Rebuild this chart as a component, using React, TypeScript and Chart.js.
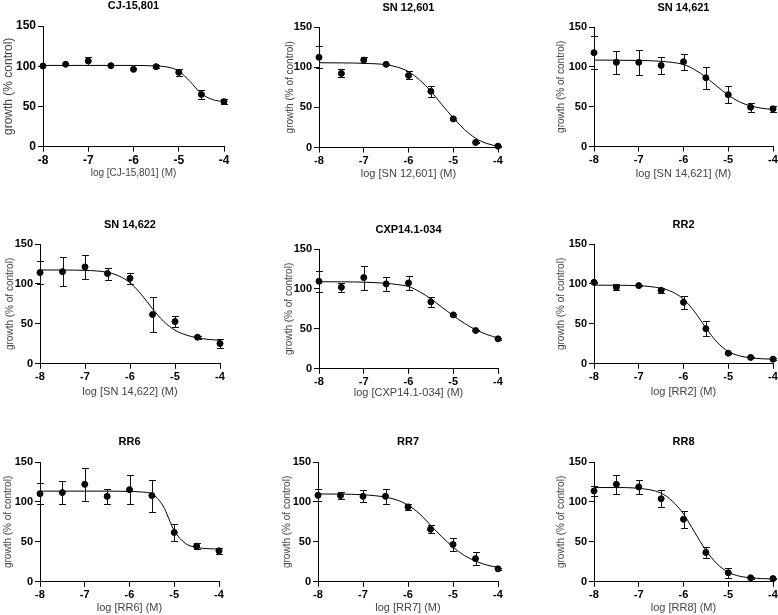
import React, { useEffect, useRef } from "react";
import { Chart, registerables } from "chart.js";

Chart.register(...registerables);

// ---------- data ----------
const doses = [-8, -7.5, -7, -6.5, -6, -5.5, -5, -4.5, -4];
const fitX = [-8, -7.5, -7, -6.5, -6.25, -6, -5.75, -5.5, -5.25, -5, -4.75, -4.5, -4.25, -4];
const xRange = [-8, -4];
const xStep = 1;
const yRange = [0, 150];
const yStep = 50;

const titles = ["CJ-15,801", "SN 12,601", "SN 14,621", "SN 14,622", "CXP14.1-034", "RR2", "RR6", "RR7", "RR8"];
const xTitles = [
  "log [CJ-15,801] (M)",
  "log [SN 12,601] (M)",
  "log [SN 14,621] (M)",
  "log [SN 14,622] (M)",
  "log [CXP14.1-034] (M)",
  "log [RR2] (M)",
  "log [RR6] (M)",
  "log [RR7] (M)",
  "log [RR8] (M)",
];
const yTitles = [
  "growth (% control)",
  "growth (% of control)",
  "growth (% of control)",
  "growth (% of control)",
  "growth (% of control)",
  "growth (% of control)",
  "growth (% of control)",
  "growth (% of control)",
  "growth (% of control)",
];

const cj15801Mean = [100.3, 102.4, 106.5, 100.7, 96.1, 99.5, 92.4, 65, 56];
const cj15801Err = [0, 0, 5, 0, 0, 2, 4, 6, 3];
const cj15801Fit = [101, 101, 101, 101, 101, 101, 100.8, 100.3, 99, 94, 81, 66, 58.5, 56];

const sn12601Mean = [112.3, 92.2, 108.9, 103.5, 89.7, 70, 35.6, 6.3, 1.7];
const sn12601Err = [13.5, 5, 4, 1, 5, 7, 1.5, 0.5, 0.5];
const sn12601Fit = [105.5, 105.3, 104.8, 103, 100, 94.5, 84, 70, 53, 37, 22.5, 11.5, 5, 1.5];

const sn14621Mean = [117.7, 105.6, 105.6, 101.8, 106.4, 86.3, 65, 49.4, 47.3];
const sn14621Err = [21, 14, 15.5, 10.5, 10, 14, 11, 5.5, 3.5];
const sn14621Fit = [108.5, 108.3, 108, 107, 105.5, 103, 96.5, 87, 75.5, 64.5, 56, 51, 48, 46.5];

const sn14622Mean = [114.2, 115.4, 121.3, 113, 107, 61.7, 52.9, 33.3, 25.4];
const sn14622Err = [14.5, 18, 15.5, 7.5, 7, 22, 6.7, 2, 5.5];
const sn14622Fit = [117.5, 117.4, 117, 114.5, 110, 101.5, 87, 69, 53, 42, 36, 32.5, 30.5, 29.5];

const cxp141034Mean = [109.6, 102, 114.2, 106.3, 107.5, 83.8, 67.5, 47.9, 37.5];
const cxp141034Err = [13.3, 6, 15, 8.5, 9, 6, 1, 1, 1];
const cxp141034Fit = [109, 108.9, 108.5, 107, 105.5, 103, 96.5, 87.5, 77, 66.5, 57, 49, 43, 38.5];

const rr2Mean = [102, 95.8, 97.9, 92, 77, 44, 13.3, 8, 5.8];
const rr2Err = [1, 4, 1, 3.5, 8, 9.5, 1.5, 1, 1];
const rr2Fit = [98.5, 98.3, 97.8, 94.5, 90, 81, 65, 45, 27, 15.5, 10, 7.5, 6.3, 5.8];

const rr6Mean = [110.4, 111.7, 122, 107, 115.4, 108, 61.7, 44.6, 38.8];
const rr6Err = [13.5, 14.5, 21, 9.5, 18.5, 20, 10.5, 4, 4];
const rr6Fit = [113.5, 113.5, 113.5, 113.5, 113.4, 113.2, 112.5, 110, 95, 64, 48, 43, 41.5, 41];

const rr7Mean = [108.3, 107.9, 107, 107, 93.8, 65.8, 46.7, 29, 16.2];
const rr7Err = [7.3, 4, 7.5, 9.5, 4, 5.3, 8.3, 8.3, 1];
const rr7Fit = [110, 109.8, 109, 106, 102.5, 96, 85.5, 71, 56.5, 43.5, 33, 26, 21, 18];

const rr8Mean = [113.8, 122, 118.8, 104, 78.3, 36.7, 11.3, 5, 4];
const rr8Err = [5.8, 11.5, 9, 10.5, 10.5, 7, 6, 1, 1];
const rr8Fit = [118, 118, 117, 111, 101, 85, 62, 39.5, 22.5, 12, 7, 5, 4, 3.5];

const means = [cj15801Mean, sn12601Mean, sn14621Mean, sn14622Mean, cxp141034Mean, rr2Mean, rr6Mean, rr7Mean, rr8Mean];
const errs = [cj15801Err, sn12601Err, sn14621Err, sn14622Err, cxp141034Err, rr2Err, rr6Err, rr7Err, rr8Err];
const fits = [cj15801Fit, sn12601Fit, sn14621Fit, sn14622Fit, cxp141034Fit, rr2Fit, rr6Fit, rr7Fit, rr8Fit];

// ---------- layout (page pixels) ----------
// plotLeft, plotTop, plotRight, plotBottom, titleCenterY, yTitleCenterX, xTitleCenterY
const layouts = [
  [43, 26, 224, 147, 5.8, 8.7, 173.3],
  [319, 27, 498, 147, 7.3, 290, 173],
  [594, 27, 773, 146, 7.3, 561, 173],
  [40, 244, 220, 364, 224.3, 10, 391.7],
  [319, 249, 498, 369, 229.3, 289, 392.7],
  [594, 244, 773, 364, 224.3, 560.7, 391.7],
  [40, 462, 219, 582, 441.7, 8.3, 607.7],
  [318, 462, 498, 582, 441.7, 287, 607.7],
  [594, 462, 773, 582, 441.7, 561, 607.7],
];
// font sizes: title, tick, yTitle, xTitle
const fontSizes = [
  [11, 12, 12, 10],
  [11, 11, 10, 11],
  [11, 11, 10, 11],
  [11, 11, 10, 11],
  [11, 11, 10, 11],
  [11, 11, 10, 11],
  [11, 11, 10, 11],
  [11, 11, 10, 11],
  [11, 11, 10, 11],
];

const FONT = "'Liberation Sans', Arial, Helvetica, sans-serif";
const PAD_R = 10;

const errorBarPlugin = {
  id: "errorBars",
  afterDatasetsDraw(chart: any) {
    const ctx = chart.ctx;
    const xs = chart.scales.x;
    const ys = chart.scales.y;
    chart.data.datasets.forEach((ds: any) => {
      if (!ds.errors) return;
      ctx.save();
      ctx.strokeStyle = "#111";
      ctx.lineWidth = 1;
      const cap = 3.5;
      ds.data.forEach((p: any, i: number) => {
        const e = ds.errors[i];
        if (!e) return;
        const px = Math.round(xs.getPixelForValue(p.x)) + 0.5;
        const top = Math.round(ys.getPixelForValue(p.y + e)) + 0.5;
        const bot = Math.round(ys.getPixelForValue(p.y - e)) + 0.5;
        ctx.beginPath();
        ctx.moveTo(px, top);
        ctx.lineTo(px, bot);
        ctx.moveTo(px - cap, top);
        ctx.lineTo(px + cap, top);
        ctx.moveTo(px - cap, bot);
        ctx.lineTo(px + cap, bot);
        ctx.stroke();
      });
      ctx.restore();
    });
  },
};

function Panel({ idx }: { idx: number }) {
  const ref = useRef<HTMLCanvasElement>(null);
  const [pl, pt, pr, pb, ty, yx, xy] = layouts[idx];
  const [tSize, tickSize, ytSize, xtSize] = fontSizes[idx];
  const cLeft = Math.round(yx - ytSize / 2);
  const cTop = Math.max(0, Math.round(ty - tSize / 2));
  const yW = pl - cLeft;
  const titlePadBottom = pt - cTop - tSize;
  const xH = xy - pb + xtSize / 2;
  const cH = Math.round(pb + xH - cTop);
  const cW = Math.round(pr - cLeft + PAD_R);

  useEffect(() => {
    const canvas = ref.current!;
    const chart = new Chart(canvas, {
      type: "scatter",
      data: {
        datasets: [
          {
            type: "line",
            data: fitX.map((x, i) => ({ x, y: fits[idx][i] })),
            borderColor: "#000",
            borderWidth: 1,
            pointRadius: 0,
            cubicInterpolationMode: "monotone",
            fill: false,
            clip: false,
          } as any,
          {
            type: "scatter",
            data: doses.map((x, i) => ({ x, y: means[idx][i] })),
            errors: errs[idx],
            backgroundColor: "#000",
            borderColor: "#000",
            pointRadius: 3,
            pointHoverRadius: 3,
            clip: false,
          } as any,
        ],
      },
      options: {
        animation: false,
        responsive: false,
        devicePixelRatio: 1,
        events: [],
        layout: { padding: { left: 0, top: 0, right: PAD_R, bottom: 0 } },
        plugins: {
          legend: { display: false },
          tooltip: { enabled: false },
          title: {
            display: true,
            text: titles[idx],
            color: "#000",
            fullSize: false,
            font: { family: FONT, size: tSize, weight: "bold", lineHeight: 1 },
            padding: { top: 0, bottom: titlePadBottom },
          },
        },
        scales: {
          x: {
            type: "linear",
            min: xRange[0],
            max: xRange[1],
            afterFit: (s: any) => {
              s.height = xH;
            },
            ticks: {
              stepSize: xStep,
              color: "#000",
              padding: 2,
              font: { family: FONT, size: tickSize, weight: "bold" },
            },
            grid: { display: true, drawOnChartArea: false, drawTicks: true, tickLength: 5, color: "#000" },
            border: { display: true, color: "#000", width: 1 },
            title: {
              display: true,
              text: xTitles[idx],
              color: "#444",
              padding: 0,
              font: { family: FONT, size: xtSize, lineHeight: 1 },
            },
          },
          y: {
            type: "linear",
            min: yRange[0],
            max: yRange[1],
            afterFit: (s: any) => {
              s.width = yW;
            },
            ticks: {
              stepSize: yStep,
              color: "#000",
              padding: 2,
              font: { family: FONT, size: tickSize, weight: "bold" },
            },
            grid: { display: true, drawOnChartArea: false, drawTicks: true, tickLength: 5, color: "#000" },
            border: { display: true, color: "#000", width: 1 },
            title: {
              display: true,
              text: yTitles[idx],
              color: "#444",
              padding: 0,
              font: { family: FONT, size: ytSize, lineHeight: 1 },
            },
          },
        },
      },
      plugins: [errorBarPlugin],
    } as any);
    return () => chart.destroy();
  }, []);

  return (
    <canvas
      ref={ref}
      width={cW}
      height={cH}
      style={{ position: "absolute", left: cLeft, top: cTop, width: cW, height: cH }}
    />
  );
}

export default function App() {
  return (
    <div
      style={{
        position: "absolute",
        left: 0,
        top: 0,
        width: 778,
        height: 615,
        overflow: "hidden",
        background: "#fff",
      }}
    >
      {titles.map((_, i) => (
        <Panel key={i} idx={i} />
      ))}
    </div>
  );
}
